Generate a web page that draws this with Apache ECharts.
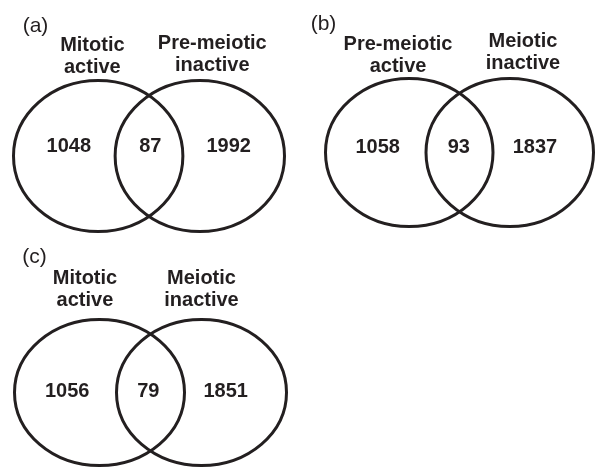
<!DOCTYPE html>
<html><head><meta charset="utf-8">
<script src="https://cdn.jsdelivr.net/npm/echarts@6/dist/echarts.min.js"></script>
<style>html,body{margin:0;padding:0;background:#fff}#c{width:596px;height:468px}</style>
</head><body><div id="c"></div>
<script>
// ---- data ----
const panelLetters = ['(a)', '(b)', '(c)'];
const leftSetLabels = ['Mitotic\nactive', 'Pre-meiotic\nactive', 'Mitotic\nactive'];
const rightSetLabels = ['Pre-meiotic\ninactive', 'Meiotic\ninactive', 'Meiotic\ninactive'];
const leftOnlyCounts = [1048, 1058, 1056];
const overlapCounts = [87, 93, 79];
const rightOnlyCounts = [1992, 1837, 1851];

// ---- layout (panel grids and positions in normalized set units) ----
const grids = [
  {left: 13.5, top: 80.5, width: 271, height: 151},
  {left: 325.5, top: 78.5, width: 268, height: 148},
  {left: 14.5, top: 319.5, width: 272, height: 146}
];
const setCenters = [-0.6, 0.6];
const layout = [
  {nums: [[-0.947, -0.123], [0.015, -0.123], [0.941, -0.123]], labels: [[-0.669, -1.318], [0.747, -1.351]], letter: [-1.34, -1.72]},
  {nums: [[-0.977, -0.068], [-0.008, -0.068], [0.90, -0.068]], labels: [[-0.734, -1.316], [0.758, -1.35]], letter: [-1.624, -1.735]},
  {nums: [[-0.98, -0.011], [-0.026, -0.011], [0.885, -0.011]], labels: [[-0.771, -1.418], [0.6, -1.407]], letter: [-1.365, -1.86]}
];

const FONT = '"Liberation Sans", Arial, Helvetica, sans-serif';
const INK = '#231f20';

const chart = echarts.init(document.getElementById('c'), null, {renderer: 'canvas'});
const series = [];
panelLetters.forEach(function (letter, i) {
  const L = layout[i];
  const items = [];
  setCenters.forEach(function (cx) { items.push({pos: [cx, 0], kind: 'ellipse'}); });
  const counts = [leftOnlyCounts[i], overlapCounts[i], rightOnlyCounts[i]];
  counts.forEach(function (v, k) { items.push({pos: L.nums[k], kind: 'num', text: String(v)}); });
  items.push({pos: L.labels[0], kind: 'label', text: leftSetLabels[i]});
  items.push({pos: L.labels[1], kind: 'label', text: rightSetLabels[i]});
  items.push({pos: L.letter, kind: 'letter', text: letter});
  series.push({
    type: 'custom',
    coordinateSystem: 'cartesian2d',
    xAxisIndex: i, yAxisIndex: i,
    silent: true,
    clip: false,
    data: items.map(function (it) { return it.pos; }),
    renderItem: function (params, api) {
      const it = items[params.dataIndex];
      const p = api.coord([api.value(0), api.value(1)]);
      if (it.kind === 'ellipse') {
        const s = api.size([1, 1]);
        return {type: 'ellipse', shape: {cx: p[0], cy: p[1], rx: s[0], ry: s[1]},
          style: {fill: 'none', stroke: INK, lineWidth: 3}};
      }
      const isLetter = it.kind === 'letter';
      return {type: 'text', style: {
        text: it.text, x: p[0], y: p[1],
        font: (isLetter ? 'normal 21px ' : 'bold 20px ') + FONT,
        fill: INK, align: 'center', verticalAlign: 'middle', lineHeight: 22
      }};
    }
  });
});

chart.setOption({
  animation: false,
  backgroundColor: '#ffffff',
  grid: grids.map(function (g) { return Object.assign({}, g); }),
  xAxis: grids.map(function (g, i) { return {type: 'value', gridIndex: i, min: -1.6, max: 1.6, show: false}; }),
  yAxis: grids.map(function (g, i) { return {type: 'value', gridIndex: i, min: -1, max: 1, inverse: true, show: false}; }),
  series: series
});
</script>
</body></html>
